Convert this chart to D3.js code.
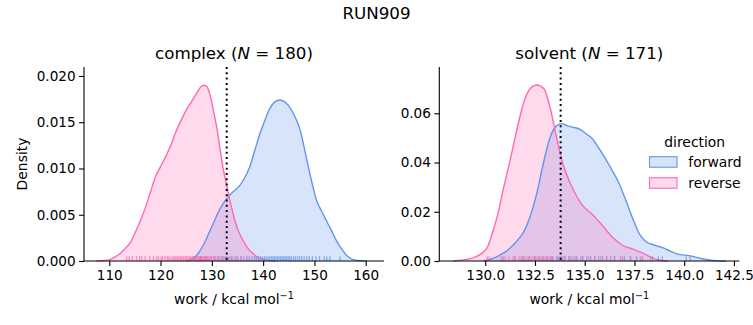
<!DOCTYPE html>
<html>
<head>
<meta charset="utf-8">
<script src="https://cdn.jsdelivr.net/npm/d3@7"></script>
<style>
  html, body { margin: 0; padding: 0; background: #fff; }
  svg { display: block; font-family: "DejaVu Sans", sans-serif; }
</style>
</head>
<body>
<svg id="chart" width="753" height="325"></svg>
<script>
// ---------------- DATA ----------------
const figureTitle = "RUN909";
const directions = ["forward", "reverse"];
const panelNames = ["complex", "solvent"];
const panelN = [180, 171];
const dottedLineValues = [132.9, 133.79];

// complex panel: KDE curves (work, density)
const complexForwardX = [125.0, 126.0, 127.0, 127.8, 128.6, 129.5, 130.3, 131.2, 132.2, 133.0, 133.8, 134.6, 135.5, 136.4, 137.4, 138.4, 139.4, 140.4, 141.3, 142.3, 143.2, 144.2, 145.2, 146.2, 147.2, 148.0, 148.8, 149.6, 150.4, 151.4, 152.4, 153.4, 154.3, 155.3, 156.3, 157.3, 158.5, 160.2];
const complexForwardY = [0, 0.0002, 0.0006, 0.0012, 0.0020, 0.0031, 0.0041, 0.0052, 0.0062, 0.0068, 0.0073, 0.0077, 0.0082, 0.0090, 0.0102, 0.0120, 0.0138, 0.0153, 0.0165, 0.0172, 0.0174, 0.0172, 0.0166, 0.0156, 0.0142, 0.0123, 0.0102, 0.0083, 0.0066, 0.0054, 0.0043, 0.0032, 0.0022, 0.0013, 0.0006, 0.0002, 0.00005, 0];
const complexReverseX = [107.5, 109.0, 110.1, 111.0, 112.0, 113.0, 114.0, 115.0, 116.0, 117.0, 118.0, 119.0, 120.0, 121.0, 122.0, 123.0, 124.0, 125.0, 126.0, 127.0, 128.0, 128.6, 129.2, 129.8, 130.4, 131.0, 131.6, 132.2, 132.9, 133.5, 134.2, 135.0, 136.0, 137.0, 138.0, 139.0, 140.5, 142.5];
const complexReverseY = [0, 0.00005, 0.00015, 0.0004, 0.00075, 0.0013, 0.0019, 0.0030, 0.0043, 0.0057, 0.0074, 0.0091, 0.0102, 0.0113, 0.0125, 0.0140, 0.0152, 0.0163, 0.0172, 0.0181, 0.0189, 0.0190, 0.0187, 0.0176, 0.0160, 0.0143, 0.0121, 0.0100, 0.0082, 0.0066, 0.0050, 0.0035, 0.0023, 0.0014, 0.0008, 0.0004, 0.00012, 0];

// solvent panel: KDE curves (work, density)
const solventForwardX = [129.9, 130.3, 130.74, 131.1, 131.41, 131.7, 131.91, 132.25, 132.59, 132.92, 133.25, 133.59, 133.84, 134.1, 134.43, 134.76, 135.1, 135.35, 135.77, 136.27, 136.7, 137.1, 137.45, 137.75, 138.05, 138.45, 138.95, 139.3, 139.63, 140.3, 140.97, 141.64, 142.1];
const solventForwardY = [0, 0.0008, 0.0024, 0.0042, 0.0065, 0.0092, 0.0115, 0.0180, 0.0275, 0.0397, 0.0500, 0.0550, 0.0558, 0.0550, 0.0543, 0.0535, 0.0515, 0.0500, 0.0451, 0.0383, 0.0320, 0.0240, 0.0165, 0.0110, 0.0080, 0.0066, 0.0053, 0.0040, 0.0029, 0.0021, 0.0008, 0.0001, 0];
const solventReverseX = [128.4, 128.9, 129.4, 129.8, 130.1, 130.4, 130.6, 130.9, 131.25, 131.58, 131.91, 132.25, 132.6, 132.95, 133.25, 133.6, 133.9, 134.25, 134.6, 134.93, 135.4, 135.9, 136.4, 136.9, 137.4, 137.9, 138.4, 138.9, 139.2];
const solventReverseY = [0, 0.0004, 0.0013, 0.0030, 0.0055, 0.0125, 0.0180, 0.0290, 0.0410, 0.0530, 0.0638, 0.0700, 0.0715, 0.0700, 0.0627, 0.0495, 0.0395, 0.0320, 0.0262, 0.0222, 0.0188, 0.0143, 0.0096, 0.0064, 0.0049, 0.0033, 0.0013, 0.0002, 0];

// rug samples (work values)
const complexForwardRug = [126.5, 127.8, 128.9, 129.8, 130.6, 131.3, 132.0, 132.6, 133.2, 133.8, 134.5, 135.1, 135.7, 136.2, 136.8, 137.3, 137.8, 138.3, 138.7, 139.1, 139.5, 139.9, 140.3, 140.6, 141.0, 141.3, 141.6, 141.9, 142.2, 142.5, 142.8, 143.1, 143.4, 143.7, 144.0, 144.3, 144.6, 144.9, 145.2, 145.5, 145.9, 146.3, 146.7, 147.1, 147.5, 148.0, 148.5, 149.0, 149.6, 150.3, 151.0, 151.9, 152.4, 153.0, 155.0];
const complexReverseRug = [113.4, 113.9, 114.5, 115.3, 115.9, 116.3, 117.0, 117.9, 118.6, 119.2, 119.6, 120.1, 120.4, 120.9, 121.3, 121.6, 122.0, 122.4, 122.7, 123.0, 123.3, 123.6, 123.9, 124.2, 124.5, 124.8, 125.0, 125.3, 125.6, 125.8, 126.1, 126.3, 126.6, 126.8, 127.0, 127.2, 127.4, 127.6, 127.8, 128.0, 128.2, 128.4, 128.6, 128.8, 129.0, 129.2, 129.4, 129.7, 130.0, 130.3, 130.6, 131.0, 131.4, 131.8, 132.3, 132.8, 133.4, 134.0, 134.8, 135.7, 136.8];
const solventForwardRug = [130.9, 131.5, 131.9, 132.2, 132.5, 132.7, 132.9, 133.1, 133.3, 133.4, 133.6, 133.7, 133.8, 133.9, 134.0, 134.2, 134.3, 134.5, 134.6, 134.8, 134.9, 135.1, 135.3, 135.5, 135.7, 135.9, 136.1, 136.3, 136.5, 136.8, 137.0, 137.3, 137.6, 137.9, 138.4, 138.7, 138.9, 140.1, 140.3];
const solventReverseRug = [130.1, 130.2, 130.8, 131.0, 131.2, 131.4, 131.5, 131.7, 131.8, 131.9, 132.0, 132.1, 132.2, 132.3, 132.4, 132.5, 132.6, 132.7, 132.8, 132.9, 133.0, 133.1, 133.2, 133.3, 133.4, 133.6, 133.8, 134.0, 134.2, 134.4, 134.6, 134.9, 135.2, 135.5, 135.8, 136.1, 136.5, 136.9, 137.3, 137.8, 138.3];

// tick labels
const complexXTicks = [110, 120, 130, 140, 150, 160];
const complexYTicks = [0.000, 0.005, 0.010, 0.015, 0.020];
const solventXTicks = [130.0, 132.5, 135.0, 137.5, 140.0, 142.5];
const solventYTicks = [0.00, 0.02, 0.04, 0.06];

// ---------------- STYLE / LAYOUT ----------------
const colors = { forward: "#6495ED", reverse: "#FF69B4" };
const svg = d3.select("#chart");

const panels = [
  {
    name: panelNames[0], n: panelN[0], x0: 84, x1: 384, y0: 67, y1: 261,
    xDomain: [105.07, 163.57], yDomain: [0, 0.02097],
    xTicks: complexXTicks, yTicks: complexYTicks, xFmt: d3.format("d"), yFmt: d3.format(".3f"),
    curves: { forward: [complexForwardX, complexForwardY], reverse: [complexReverseX, complexReverseY] },
    rugs: { forward: complexForwardRug, reverse: complexReverseRug },
    vline: dottedLineValues[0], ylabel: true
  },
  {
    name: panelNames[1], n: panelN[1], x0: 439.3, x1: 739.3, y0: 67, y1: 261,
    xDomain: [127.69, 142.77], yDomain: [0, 0.0788],
    xTicks: solventXTicks, yTicks: solventYTicks, xFmt: d3.format(".1f"), yFmt: d3.format(".2f"),
    curves: { forward: [solventForwardX, solventForwardY], reverse: [solventReverseX, solventReverseY] },
    rugs: { forward: solventForwardRug, reverse: solventReverseRug },
    vline: dottedLineValues[1], ylabel: false
  }
];

svg.append("text").attr("x", 376.5).attr("y", 19).attr("text-anchor", "middle")
  .style("font-size", "16.7px").text(figureTitle);

panels.forEach(p => {
  const x = d3.scaleLinear().domain(p.xDomain).range([p.x0, p.x1]);
  const y = d3.scaleLinear().domain(p.yDomain).range([p.y1, p.y0]);
  const g = svg.append("g");

  directions.forEach(dir => {
    const [xs, ys] = p.curves[dir];
    const pts = xs.map((v, i) => [v, ys[i]]);
    const area = d3.area().x(d => x(d[0])).y0(y(0)).y1(d => y(d[1])).curve(d3.curveMonotoneX);
    g.append("path").attr("d", area(pts)).attr("fill", colors[dir]).attr("fill-opacity", 0.25);
  });
  directions.forEach(dir => {
    const [xs, ys] = p.curves[dir];
    const pts = xs.map((v, i) => [v, ys[i]]);
    const line = d3.line().x(d => x(d[0])).y(d => y(d[1])).curve(d3.curveMonotoneX);
    g.append("path").attr("d", line(pts)).attr("fill", "none")
      .attr("stroke", colors[dir]).attr("stroke-width", 1.4);
  });

  // rugs
  const rugH = 0.025 * (p.y1 - p.y0);
  directions.forEach(dir => {
    g.selectAll(null).data(p.rugs[dir]).enter().append("line")
      .attr("x1", d => x(d)).attr("x2", d => x(d))
      .attr("y1", p.y1).attr("y2", p.y1 - rugH)
      .attr("stroke", colors[dir]).attr("stroke-width", 1.3).attr("stroke-opacity", 0.7);
  });

  // dotted vertical line
  g.append("line").attr("x1", x(p.vline)).attr("x2", x(p.vline))
    .attr("y1", p.y0).attr("y2", p.y1)
    .attr("stroke", "#000").attr("stroke-width", 2).attr("stroke-dasharray", "2,3.3");

  // axes
  const xAxis = d3.axisBottom(x).tickValues(p.xTicks).tickFormat(p.xFmt).tickSizeOuter(0).tickSize(4.9).tickPadding(4.5);
  const yAxis = d3.axisLeft(y).tickValues(p.yTicks).tickFormat(p.yFmt).tickSizeOuter(0).tickSize(4.9).tickPadding(3.5);
  const gx = g.append("g").attr("transform", `translate(0,${p.y1})`).call(xAxis);
  const gy = g.append("g").attr("transform", `translate(${p.x0},0)`).call(yAxis);
  [gx, gy].forEach(a => {
    a.select(".domain").attr("stroke", "#000").attr("stroke-width", 1.1);
    a.selectAll(".tick line").attr("stroke", "#000").attr("stroke-width", 1.1);
    a.selectAll(".tick text").attr("fill", "#000").style("font-size", "13.6px").style("font-family", "DejaVu Sans");
  });
  gx.select(".domain").attr("d", `M${p.x0},0H${p.x1}`);
  gy.select(".domain").attr("d", `M0,${p.y1}V${p.y0}`);

  // title
  const cx = (p.x0 + p.x1) / 2;
  const t = svg.append("text").attr("x", cx).attr("y", 59).attr("text-anchor", "middle").style("font-size", "16.7px");
  t.append("tspan").text(p.name + " (");
  t.append("tspan").style("font-style", "italic").text("N");
  t.append("tspan").text(" = " + p.n + ")");

  // x label
  const xl = svg.append("text").attr("x", cx).attr("y", 304).attr("text-anchor", "middle").style("font-size", "13.9px");
  xl.append("tspan").text("work / kcal mol");
  xl.append("tspan").attr("dy", -5.5).style("font-size", "9.7px").text("\u22121");

  if (p.ylabel) {
    svg.append("text").attr("transform", `translate(27,${(p.y0 + p.y1) / 2}) rotate(-90)`)
      .attr("text-anchor", "middle").style("font-size", "13.9px").text("Density");
  }
});

// legend
const lg = svg.append("g");
lg.append("text").attr("x", 694.7).attr("y", 146.5).attr("text-anchor", "middle").style("font-size", "13.9px").text("direction");
directions.forEach((dir, i) => {
  const yy = 156.7 + i * 21;
  lg.append("rect").attr("x", 649.5).attr("y", yy).attr("width", 27.5).attr("height", 10.5)
    .attr("fill", colors[dir]).attr("fill-opacity", 0.25).attr("stroke", colors[dir]).attr("stroke-width", 1.1);
  lg.append("text").attr("x", 688.3).attr("y", yy + 10.2).style("font-size", "13.9px").text(dir);
});
</script>
</body>
</html>
